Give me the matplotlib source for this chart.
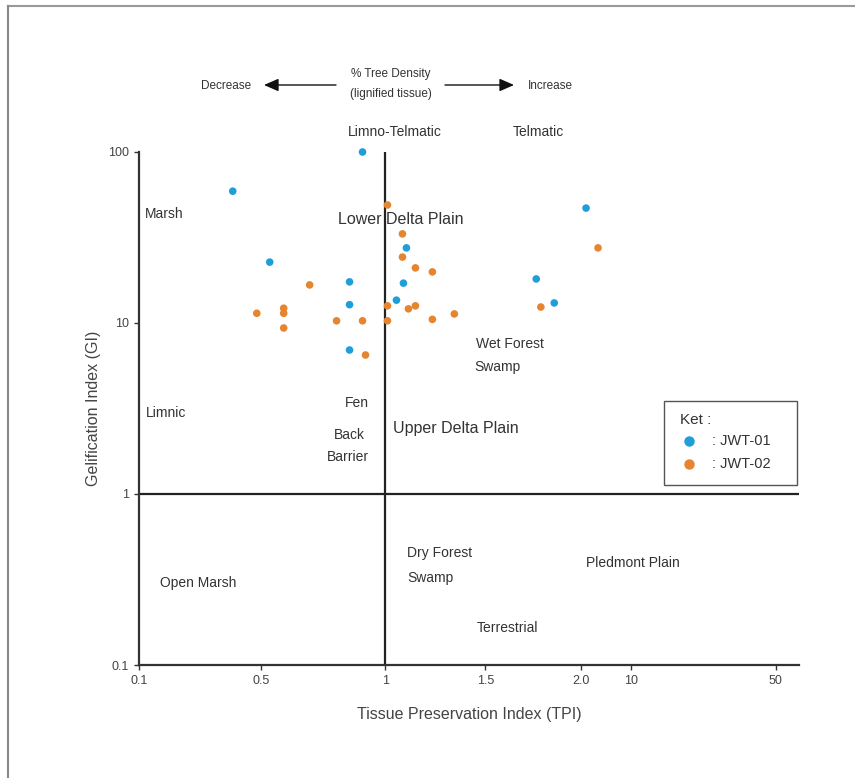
import numpy as np
import matplotlib
matplotlib.use("Agg")
import matplotlib.pyplot as plt
from matplotlib.lines import Line2D
from matplotlib.patches import FancyArrowPatch, Rectangle

plt.rcParams['font.family'] = ['Liberation Sans', 'DejaVu Sans']

# ---------------- data ----------------
jwt01_tpi = [0.408, 0.908, 0.536, 0.856, 0.856, 0.856, 1.105, 1.09, 1.055, 1.766, 1.86, 2.8]
jwt01_gi = [59, 100, 22.7, 17.4, 12.8, 6.95, 27.5, 17.1, 13.6, 18.1, 13.1, 47]

jwt02_tpi = [0.487, 0.592, 0.592, 0.592, 0.696, 0.804, 0.908, 0.92, 1.01, 1.085, 1.085,
             1.15, 1.235, 1.01, 1.01, 1.115, 1.15, 1.235, 1.345, 1.79, 4.72]
jwt02_gi = [11.4, 12.2, 11.4, 9.35, 16.7, 10.3, 10.3, 6.5, 49, 33.2, 24.3,
            21, 19.9, 12.6, 10.3, 12.1, 12.6, 10.5, 11.3, 12.4, 27.5]

x_ticks = [0.1, 0.5, 1, 1.5, 2.0, 10, 50]
x_tick_labels = ['0.1', '0.5', '1', '1.5', '2.0', '10', '50']
y_ticks = [0.1, 1, 10, 100]
y_tick_labels = ['0.1', '1', '10', '100']

legend_title = 'Ket :'
series_names = [': JWT-01', ': JWT-02']
colors = ['#1E9FDA', '#E5852F']

# irregular x scale: anchor values and their relative positions
scale_vals = [0.1, 0.5, 1, 1.5, 2.0, 10, 50, 60]
scale_pos = [139, 261, 386, 486, 582, 632, 777, 813]

W, H = 855, 778
fig = plt.figure(figsize=(W / 100, H / 100), dpi=100)
fig.patch.set_facecolor('white')

def fx(px):
    return px / W

def fy(py):
    return 1 - py / H

ax = fig.add_axes([fx(139), fy(665), (799 - 139) / W, (665 - 152) / H])

def fwd(x):
    return np.interp(x, scale_vals, scale_pos)

def inv(p):
    return np.interp(p, scale_pos, scale_vals)

ax.set_xscale('function', functions=(fwd, inv))
ax.set_yscale('log')
ax.set_xlim(0.1, 56.5)
ax.set_ylim(0.1, 100)

ax.set_xticks(x_ticks)
ax.set_xticklabels(x_tick_labels)
ax.set_yticks(y_ticks)
ax.set_yticklabels(y_tick_labels)
ax.minorticks_off()
ax.tick_params(axis='both', direction='out', length=3.5, width=1, color='#333333',
               labelsize=9, labelcolor='#444444', pad=4)

for s in ['top', 'right']:
    ax.spines[s].set_visible(False)
for s in ['left', 'bottom']:
    ax.spines[s].set_color('#333333')
    ax.spines[s].set_linewidth(1.6)

ax.axvline(1, color='#222222', lw=1.6, zorder=1)
ax.axhline(1, color='#222222', lw=1.6, zorder=1)

ax.scatter(jwt01_tpi, jwt01_gi, s=30, color=colors[0], edgecolors='none', zorder=3,
           clip_on=False)
ax.scatter(jwt02_tpi, jwt02_gi, s=30, color=colors[1], edgecolors='none', zorder=3,
           clip_on=False)

ax.set_xlabel('Tissue Preservation Index (TPI)', fontsize=11.5, color='#444444', labelpad=14)
ax.set_ylabel('Gelification Index (GI)', fontsize=11.5, color='#444444', labelpad=5)

tc = '#333333'

# legend ("Ket") box
fig.add_artist(Rectangle((fx(664), fy(485)), (797 - 664) / W, (485 - 401) / H,
                         transform=fig.transFigure, facecolor='white',
                         edgecolor='#555555', lw=1.0))
fig.text(fx(680), fy(420), legend_title, fontsize=11, color=tc, ha='left', va='center')
for i, (name, col) in enumerate(zip(series_names, colors)):
    yy = fy(441 + 23 * i)
    fig.add_artist(Line2D([fx(689)], [yy], transform=fig.transFigure, marker='o',
                          markersize=7.5, color=col, markeredgecolor='none', linestyle='none'))
    fig.text(fx(712), yy, name, fontsize=10.5, color=tc, ha='left', va='center')

# header
fig.text(fx(226), fy(86), 'Decrease', fontsize=8.5, color=tc, ha='center', va='center')
fig.text(fx(391), fy(74), '% Tree Density', fontsize=8.5, color=tc, ha='center', va='center')
fig.text(fx(391), fy(94), '(lignified tissue)', fontsize=8.5, color=tc, ha='center', va='center')
fig.text(fx(550), fy(86), 'Increase', fontsize=8.5, color=tc, ha='center', va='center')
arrow_kw = dict(arrowstyle='-|>,head_length=0.8,head_width=0.35', color='#111111', lw=1.0,
                shrinkA=0, shrinkB=0, mutation_scale=11)
fig.add_artist(FancyArrowPatch((fx(336), fy(85)), (fx(264), fy(85)),
                               transform=fig.transFigure, **arrow_kw))
fig.add_artist(FancyArrowPatch((fx(445), fy(85)), (fx(514), fy(85)),
                               transform=fig.transFigure, **arrow_kw))

fig.text(fx(395), fy(132), 'Limno-Telmatic', fontsize=10, color=tc, ha='center', va='center')
fig.text(fx(538), fy(132), 'Telmatic', fontsize=10, color=tc, ha='center', va='center')

# region labels
fig.text(fx(145), fy(214), 'Marsh', fontsize=10, color=tc, ha='left', va='center')
fig.text(fx(338), fy(219), 'Lower Delta Plain', fontsize=11.5, color=tc, ha='left', va='center')
fig.text(fx(146), fy(413), 'Limnic', fontsize=10, color=tc, ha='left', va='center')
fig.text(fx(357), fy(403), 'Fen', fontsize=10, color=tc, ha='center', va='center')
fig.text(fx(349), fy(435), 'Back', fontsize=10, color=tc, ha='center', va='center')
fig.text(fx(348), fy(457), 'Barrier', fontsize=10, color=tc, ha='center', va='center')
fig.text(fx(393), fy(429), 'Upper Delta Plain', fontsize=11.5, color=tc, ha='left', va='center')
fig.text(fx(476), fy(344), 'Wet Forest', fontsize=10, color=tc, ha='left', va='center')
fig.text(fx(474), fy(367), 'Swamp', fontsize=10, color=tc, ha='left', va='center')
fig.text(fx(407), fy(553), 'Dry Forest', fontsize=10, color=tc, ha='left', va='center')
fig.text(fx(407), fy(578), 'Swamp', fontsize=10, color=tc, ha='left', va='center')
fig.text(fx(198), fy(583), 'Open Marsh', fontsize=10, color=tc, ha='center', va='center')
fig.text(fx(633), fy(563), 'Pledmont Plain', fontsize=10, color=tc, ha='center', va='center')
fig.text(fx(507), fy(628), 'Terrestrial', fontsize=10, color=tc, ha='center', va='center')

# outer frame (top and left edges visible)
fig.add_artist(Line2D([fx(8), 1], [fy(6), fy(6)], transform=fig.transFigure,
                      color='#999999', lw=1.5))
fig.add_artist(Line2D([fx(8), fx(8)], [0, fy(6)], transform=fig.transFigure,
                      color='#888888', lw=1.5))

fig.savefig('out.png', dpi=100)
